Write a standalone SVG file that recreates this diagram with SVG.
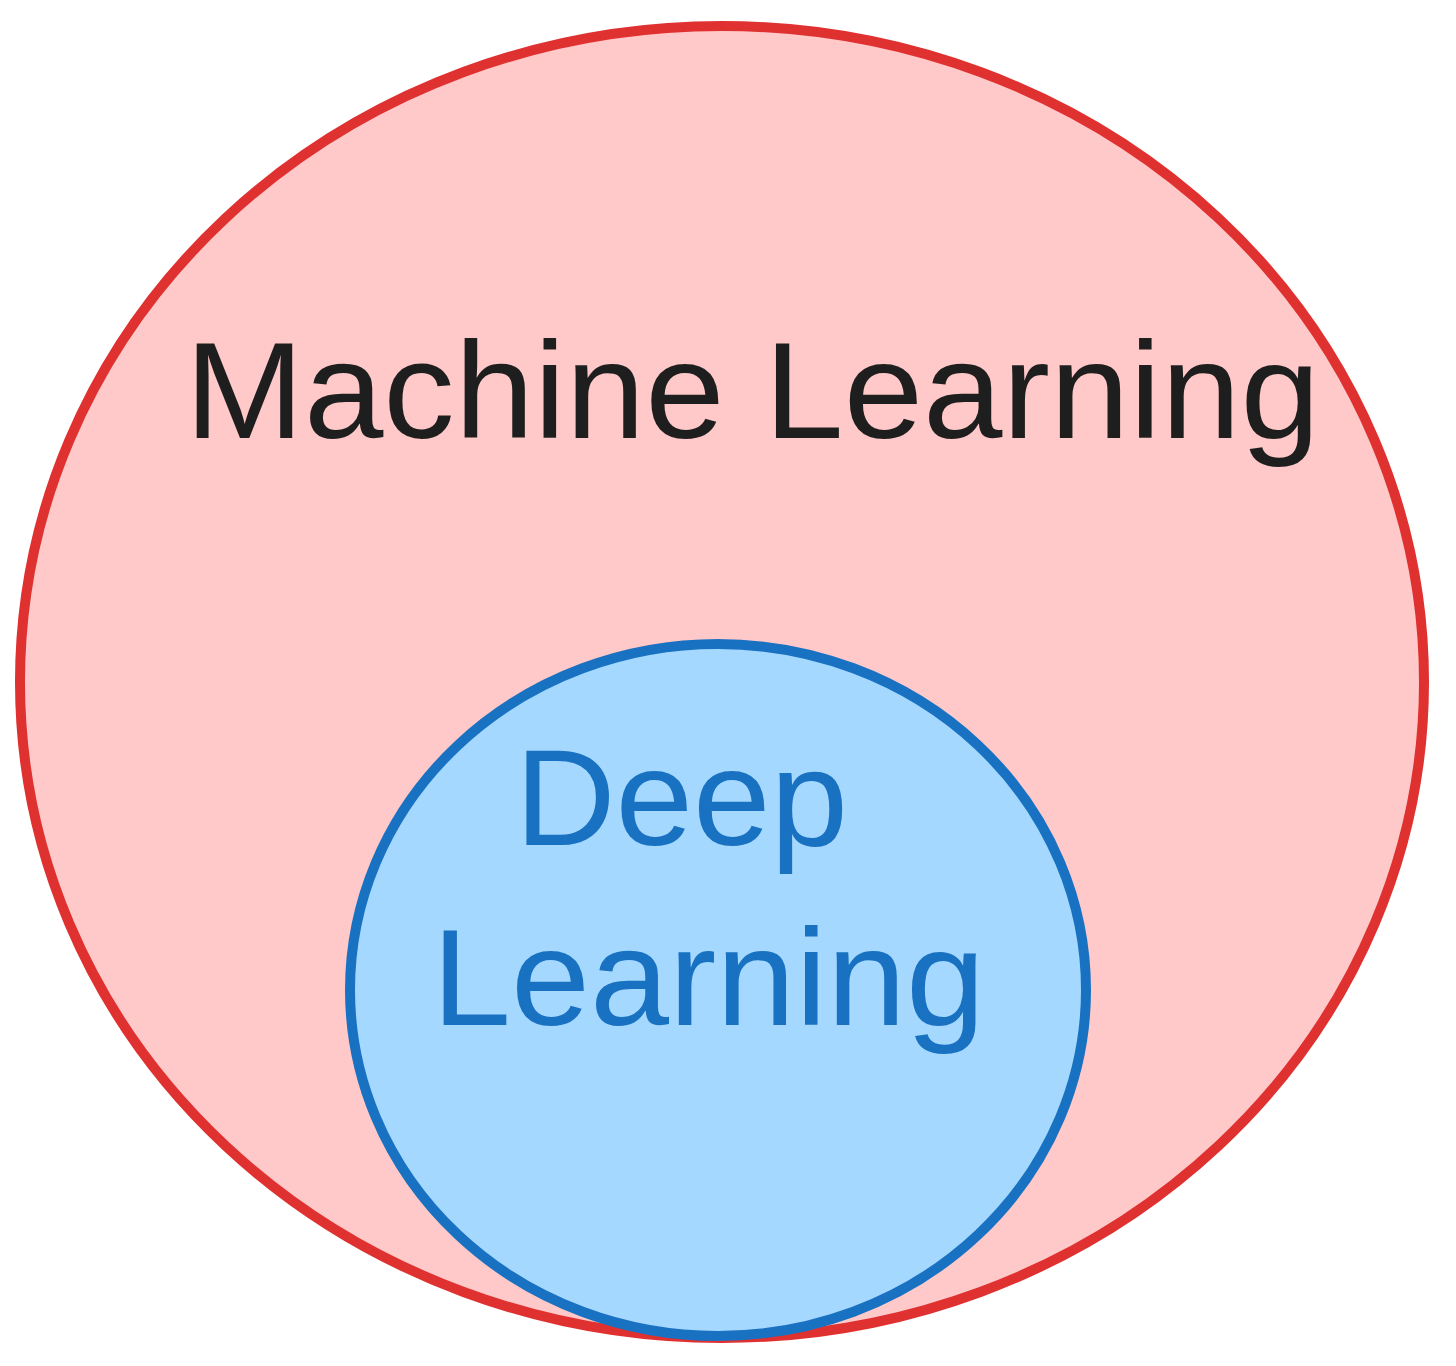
<svg xmlns="http://www.w3.org/2000/svg" width="1456" height="1366" viewBox="0 0 1456 1366">
<style>
.lbl{font-family:"Liberation Sans","DejaVu Sans",sans-serif;font-size:138px;}
</style>
<rect width="1456" height="1366" fill="#ffffff"/>
<g id="machine-learning">
<ellipse cx="722" cy="682" rx="702" ry="656" fill="#ffc9c9" stroke="#e03131" stroke-width="10"/>
<text class="lbl" x="185" y="438" fill="#1e1e1e" textLength="1135" lengthAdjust="spacingAndGlyphs">Machine Learning</text>
</g>
<g id="deep-learning">
<ellipse cx="718" cy="990" rx="368" ry="346" fill="#a5d8ff" stroke="#1971c2" stroke-width="10"/>
<text class="lbl" x="515" y="845" fill="#1971c2" textLength="333" lengthAdjust="spacingAndGlyphs">Deep</text>
<text class="lbl" x="432" y="1025" fill="#1971c2" textLength="553" lengthAdjust="spacingAndGlyphs">Learning</text>
</g>
<g id="connectors"></g>
</svg>
